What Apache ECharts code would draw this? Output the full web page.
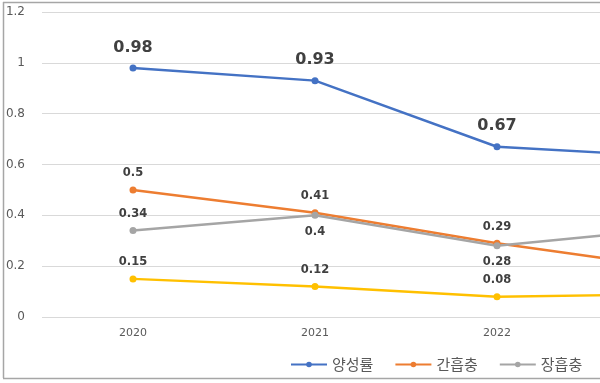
<!DOCTYPE html>
<html><head><meta charset="utf-8">
<script src="https://cdn.jsdelivr.net/npm/echarts@6/dist/echarts.min.js"></script>
<style>html,body{margin:0;padding:0;background:#fff;overflow:hidden;width:600px;height:383px}#c{width:800px;height:383px}</style>
</head><body><div id="c"></div>
<script>
const categories = ['2020', '2021', '2022', '2023'];
const positiveRate = [0.98, 0.93, 0.67, 0.63];
const clonorchis = [0.5, 0.41, 0.29, 0.19];
const intestinalFluke = [0.34, 0.4, 0.28, 0.35];
const fourthSeries = [0.15, 0.12, 0.08, 0.09];
const seriesNames = ['양성률', '간흡충', '장흡충', '기타'];
const yTicks = [0, 0.2, 0.4, 0.6, 0.8, 1, 1.2];

const font = '"Noto Sans CJK KR", "Noto Sans", sans-serif';
function mk(name, data, color, labelPos, big) {
  return {
    name, type: 'line', data,
    symbol: 'circle', symbolSize: 7,
    lineStyle: { color, width: 2.5 },
    itemStyle: { color },
    label: {
      show: true,
      position: labelPos,
      distance: big ? 9 : 7,
      color: '#404040',
      fontWeight: 'bold',
      fontSize: big ? 16 : 11.5,
      fontFamily: 'Verdana, "DejaVu Sans", sans-serif',
      formatter: p => String(p.value)
    }
  };
}
const chart = echarts.init(document.getElementById('c'));
const s3 = mk(seriesNames[2], intestinalFluke, '#A5A5A5', 'top', false);
s3.data = intestinalFluke.map((v, i) => ({ value: v, label: { position: i === 0 ? 'top' : 'bottom' } }));
s3.label.formatter = p => String(p.value);
chart.setOption({
  animation: false,
  grid: { left: 42, right: 30, top: 12, bottom: 66 },
  xAxis: {
    type: 'category', data: categories, boundaryGap: true,
    axisLine: { show: false }, axisTick: { show: false },
    axisLabel: { color: '#595959', fontSize: 11, margin: 11, fontFamily: 'Verdana, "DejaVu Sans", sans-serif' }
  },
  yAxis: {
    type: 'value', min: 0, max: 1.2, interval: 0.2,
    axisLine: { show: false }, axisTick: { show: false },
    splitLine: { lineStyle: { color: '#d9d9d9', width: 1 } },
    axisLabel: { color: '#595959', fontSize: 12, margin: 17, fontFamily: 'Verdana, "DejaVu Sans", sans-serif',
      formatter: v => String(+v.toFixed(1)) }
  },
  legend: {
    data: seriesNames.slice(0, 3), left: 285, top: 352,
    itemWidth: 36, itemHeight: 7, itemGap: 21,
    textStyle: { color: '#595959', fontSize: 15, fontFamily: font }
  },
  series: [
    mk(seriesNames[0], positiveRate, '#4472C4', 'top', true),
    mk(seriesNames[1], clonorchis, '#ED7D31', 'top', false),
    s3,
    mk(seriesNames[3], fourthSeries, '#FFC000', 'top', false)
  ],
  graphic: [
    { type: 'line', shape: { x1: 3.5, y1: 2, x2: 3.5, y2: 378 }, style: { stroke: '#a6a6a6', lineWidth: 1.5 } },
    { type: 'line', shape: { x1: 3, y1: 2.5, x2: 600, y2: 2.5 }, style: { stroke: '#a6a6a6', lineWidth: 1.5 } },
    { type: 'line', shape: { x1: 3, y1: 378.5, x2: 600, y2: 378.5 }, style: { stroke: '#a6a6a6', lineWidth: 1.5 } }
  ]
});
</script></body></html>
